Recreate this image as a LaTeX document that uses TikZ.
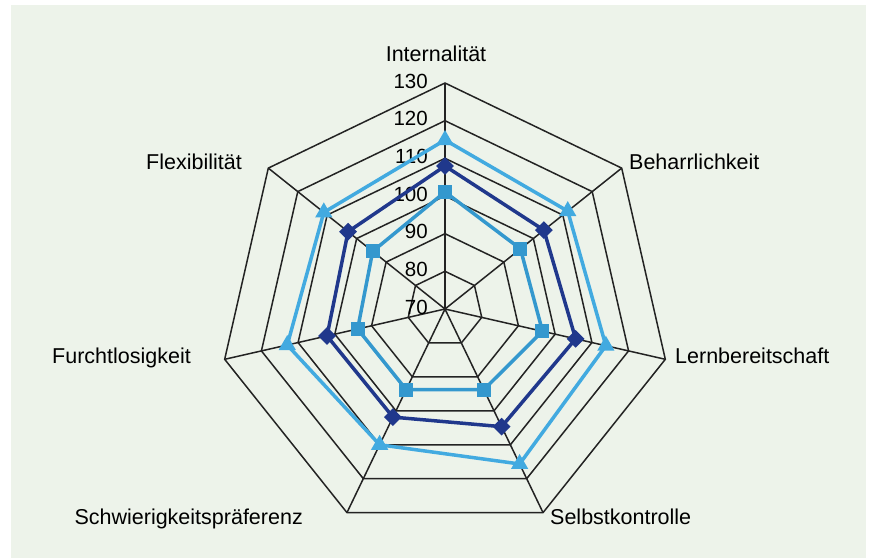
\documentclass[tikz,border=0pt]{standalone}
\usepackage{fontspec}
\setmainfont{Liberation Sans}
\usetikzlibrary{shapes.geometric}

\definecolor{chartbg}{RGB}{237,243,234}
\definecolor{gridline}{RGB}{35,35,35}
\definecolor{trilight}{RGB}{66,170,224}
\definecolor{dianavy}{RGB}{32,56,140}
\definecolor{sqblue}{RGB}{52,152,206}

\tikzstyle{grid}=[draw=gridline,line width=1.5pt,line join=miter]
\tikzstyle{tick}=[inner sep=0pt,font=\fontsize{20.5}{22}\selectfont]
\tikzstyle{axislabel}=[inner sep=0pt,font=\fontsize{21.5}{24}\selectfont]
\tikzstyle{triline}=[draw=trilight,line width=3.5pt,line join=round]
\tikzstyle{dialine}=[draw=dianavy,line width=3.5pt,line join=round]
\tikzstyle{sqline}=[draw=sqblue,line width=3.5pt,line join=round]
\tikzstyle{trimark}=[regular polygon,regular polygon sides=3,fill=trilight,inner sep=0pt,minimum size=20pt]
\tikzstyle{diamark}=[diamond,fill=dianavy,inner sep=0pt,minimum size=18pt]
\tikzstyle{sqmark}=[rectangle,fill=sqblue,inner sep=0pt,minimum size=14pt]

\begin{document}
\begin{tikzpicture}[x=1pt,y=1pt]

   % Background

   \useasboundingbox (-445,-249) rectangle (424,309);
   \fill[chartbg] (-434,-249) rectangle (421,304);

   % Grid rings

   \draw[grid] (90:37.7) -- (38.57:37.7) -- (-12.86:37.7) -- (-64.29:37.7) -- (-115.71:37.7) -- (-167.14:37.7) -- (141.43:37.7) -- cycle;
   \draw[grid] (90:75.3) -- (38.57:75.3) -- (-12.86:75.3) -- (-64.29:75.3) -- (-115.71:75.3) -- (-167.14:75.3) -- (141.43:75.3) -- cycle;
   \draw[grid] (90:113) -- (38.57:113) -- (-12.86:113) -- (-64.29:113) -- (-115.71:113) -- (-167.14:113) -- (141.43:113) -- cycle;
   \draw[grid] (90:150.7) -- (38.57:150.7) -- (-12.86:150.7) -- (-64.29:150.7) -- (-115.71:150.7) -- (-167.14:150.7) -- (141.43:150.7) -- cycle;
   \draw[grid] (90:188.3) -- (38.57:188.3) -- (-12.86:188.3) -- (-64.29:188.3) -- (-115.71:188.3) -- (-167.14:188.3) -- (141.43:188.3) -- cycle;
   \draw[grid] (90:226) coordinate(vint) -- (38.57:226) coordinate(vbeh) -- (-12.86:226) coordinate(vlern) -- (-64.29:226) coordinate(vselb) -- (-115.71:226) coordinate(vschw) -- (-167.14:226) coordinate(vfurcht) -- (141.43:226) coordinate(vflex) -- cycle;

   % Spokes

   \coordinate (ctr) at (0,0);
   \draw[grid] (ctr) -- (vint);
   \draw[grid] (ctr) -- (vbeh);
   \draw[grid] (ctr) -- (vlern);
   \draw[grid] (ctr) -- (vselb);
   \draw[grid] (ctr) -- (vschw);
   \draw[grid] (ctr) -- (vfurcht);
   \draw[grid] (ctr) -- (vflex);

   % Scale

   \node[tick,anchor=east] (s70) at (-17,2) {70};
   \node[tick,anchor=east] (s80) at (-17,39.7) {80};
   \node[tick,anchor=east] (s90) at (-17,77.3) {90};
   \node[tick,anchor=east] (s100) at (-17,115) {100};
   \node[tick,anchor=east] (s110) at (-17,152.7) {110};
   \node[tick,anchor=east] (s120) at (-17,190.3) {120};
   \node[tick,anchor=east] (s130) at (-17,228) {130};

   % Axis names

   \node[axislabel,anchor=base] (lint) at (-9,248) {Internalität};
   \node[axislabel,anchor=base west] (lbeh) at (184,140) {Beharrlichkeit};
   \node[axislabel,anchor=base west] (llern) at (230,-54) {Lernbereitschaft};
   \node[axislabel,anchor=base west] (lselb) at (105,-215) {Selbstkontrolle};
   \node[axislabel,anchor=base east] (lschw) at (-142,-215) {Schwierigkeitspräferenz};
   \node[axislabel,anchor=base east] (lfurcht) at (-254,-54) {Furchtlosigkeit};
   \node[axislabel,anchor=base east] (lflex) at (-203,140) {Flexibilität};

   % Data points

   \coordinate (q1) at (90:117);      \coordinate (d1) at (90:143);      \coordinate (t1) at (90:169);
   \coordinate (q2) at (38.57:96.5);  \coordinate (d2) at (38.57:126.5); \coordinate (t2) at (38.57:157);
   \coordinate (q3) at (-12.86:100);  \coordinate (d3) at (-12.86:134);  \coordinate (t3) at (-12.86:165);
   \coordinate (q4) at (-64.29:89.5); \coordinate (d4) at (-64.29:130.6); \coordinate (t4) at (-64.29:172);
   \coordinate (q5) at (-115.71:89.5); \coordinate (d5) at (-115.71:120); \coordinate (t5) at (-115.71:150.7);
   \coordinate (q6) at (-167.14:89.6); \coordinate (d6) at (-167.14:121); \coordinate (t6) at (-167.14:161.8);
   \coordinate (q7) at (141.43:92.5); \coordinate (d7) at (141.43:124);  \coordinate (t7) at (141.43:155);

   % Series lines

   \draw[sqline] (q1) -- (q2) -- (q3) -- (q4) -- (q5) -- (q6) -- (q7) -- cycle;
   \draw[dialine] (d1) -- (d2) -- (d3) -- (d4) -- (d5) -- (d6) -- (d7) -- cycle;
   \draw[triline] (t1) -- (t2) -- (t3) -- (t4) -- (t5) -- (t6) -- (t7) -- cycle;

   % Markers

   \node[sqmark] (mq1) at (q1) {}; \node[sqmark] (mq2) at (q2) {}; \node[sqmark] (mq3) at (q3) {}; \node[sqmark] (mq4) at (q4) {};
   \node[sqmark] (mq5) at (q5) {}; \node[sqmark] (mq6) at (q6) {}; \node[sqmark] (mq7) at (q7) {};
   \node[diamark] (md1) at (d1) {}; \node[diamark] (md2) at (d2) {}; \node[diamark] (md3) at (d3) {}; \node[diamark] (md4) at (d4) {};
   \node[diamark] (md5) at (d5) {}; \node[diamark] (md6) at (d6) {}; \node[diamark] (md7) at (d7) {};
   \node[trimark] (mt1) at (t1) {}; \node[trimark] (mt2) at (t2) {}; \node[trimark] (mt3) at (t3) {}; \node[trimark] (mt4) at (t4) {};
   \node[trimark] (mt5) at (t5) {}; \node[trimark] (mt6) at (t6) {}; \node[trimark] (mt7) at (t7) {};

\end{tikzpicture}
\end{document}
